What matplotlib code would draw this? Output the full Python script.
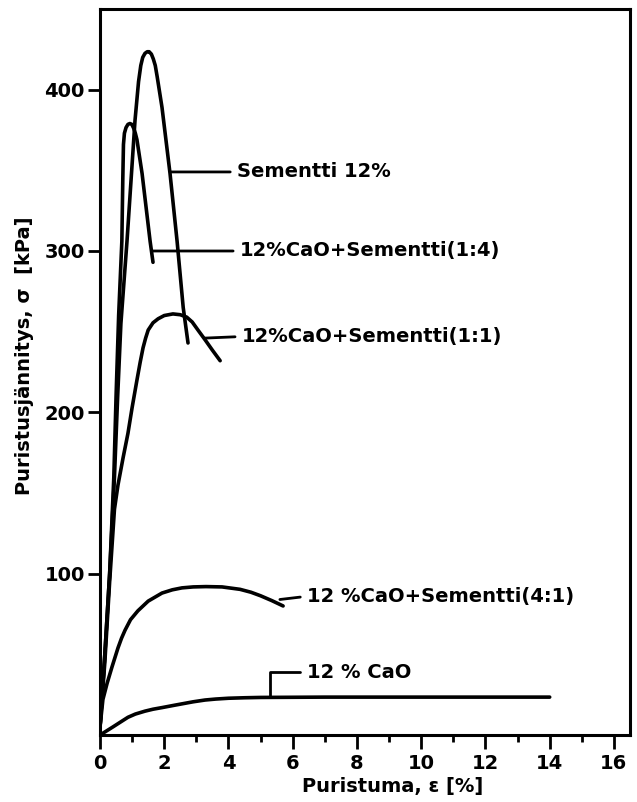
import matplotlib
matplotlib.use("Agg")
import matplotlib.pyplot as plt
from matplotlib.ticker import MultipleLocator, FixedLocator

plt.rcParams['font.family'] = ['DejaVu Sans']
plt.rcParams['font.weight'] = 'bold'

# ---- data (strain %, stress kPa) ----
sem12_x = [0, 0.15, 0.3, 0.45, 0.55, 0.65, 0.84, 1.09, 1.2, 1.27, 1.33, 1.4, 1.47, 1.53, 1.6, 1.66, 1.72,
           1.78, 1.93, 2.18, 2.4, 2.59, 2.74]
sem12_y = [5, 50, 100, 160, 210, 255, 306, 381, 405, 415, 420, 422.5, 423.5, 423.5, 422, 419, 415,
           408, 389, 348, 306, 265, 243]

mix14_x = [0, 0.15, 0.3, 0.43, 0.5, 0.58, 0.68, 0.71, 0.73, 0.76, 0.81, 0.87, 0.93, 0.99, 1.05, 1.1,
           1.15, 1.31, 1.56, 1.65]
mix14_y = [5, 50, 100, 160, 210, 260, 306, 345, 366, 373, 376.5, 378.5, 379, 378.5, 376, 373,
           369, 348, 306, 293]

mix11_x = [0, 0.15, 0.3, 0.45, 0.56, 0.72, 0.87, 1.0, 1.15, 1.25, 1.34, 1.42, 1.5, 1.65, 1.81, 2.0,
           2.27, 2.5, 2.7, 2.87, 3.05, 3.27, 3.5, 3.74]
mix11_y = [5, 45, 95, 140, 155, 172, 187, 203, 220, 231, 240, 246, 251, 255.5, 258, 260,
           261, 260.5, 259, 256, 251, 245, 238.5, 232]

mix41_x = [0, 0.09, 0.22, 0.37, 0.56, 0.67, 0.78, 0.95, 1.18, 1.5, 1.93, 2.25, 2.55, 2.9, 3.3, 3.8,
           4.36, 4.7, 5.0, 5.35, 5.7]
mix41_y = [5, 22, 32, 42, 54, 60, 65, 71.5, 77, 83, 88, 90, 91.2, 91.8, 92, 91.8,
           90.3, 88.5, 86.3, 83.3, 80]

cao_x = [0, 0.2, 0.4, 0.65, 0.87, 1.1, 1.4, 1.65, 1.93, 2.3, 2.6, 2.9, 3.27, 3.6, 4.0, 4.5, 5.0, 6.0,
         7.0, 10.0, 14.0]
cao_y = [0, 2.5, 5, 8.2, 11, 13, 14.8, 16, 17, 18.4, 19.5, 20.6, 21.7, 22.3, 22.8, 23.1, 23.3, 23.4,
         23.5, 23.5, 23.5]

labels = ["Sementti 12%", "12%CaO+Sementti(1:4)", "12%CaO+Sementti(1:1)",
          "12 %CaO+Sementti(4:1)", "12 % CaO"]
label_text_pos = [(4.27, 349), (4.36, 300), (4.42, 247), (6.45, 86), (6.45, 39)]
label_curve_pos = [(2.2, 349), (1.62, 300), (3.25, 246), (5.6, 84), (5.3, 23.5)]

x_major = [0, 2, 4, 6, 8, 10, 12, 14, 16]
y_major = [100, 200, 300, 400]

fig = plt.figure(figsize=(6.37, 8.02), dpi=100)
ax = fig.add_axes([0.157, 0.0835, 0.832, 0.9053])

series = [(sem12_x, sem12_y), (mix14_x, mix14_y), (mix11_x, mix11_y),
          (mix41_x, mix41_y), (cao_x, cao_y)]
for sx, sy in series:
    ax.plot(sx, sy, color='black', lw=2.6, solid_joinstyle='round', solid_capstyle='round')

for i, (lab, tp, cp) in enumerate(zip(labels, label_text_pos, label_curve_pos)):
    if i == 4:
        cs = 'angle,angleA=0,angleB=90,rad=0'
    else:
        cs = 'arc3'
    ax.annotate(lab, xy=cp, xytext=tp, ha='left', va='center', fontsize=14,
                fontweight='bold',
                arrowprops=dict(arrowstyle='-', color='black', lw=2.0,
                                connectionstyle=cs, relpos=(0, 0.5),
                                shrinkA=3, shrinkB=0))

ax.set_xlim(0, 16.5)
ax.set_ylim(0, 450)
ax.xaxis.set_major_locator(FixedLocator(x_major))
ax.xaxis.set_minor_locator(MultipleLocator(1))
ax.yaxis.set_major_locator(FixedLocator(y_major))
ax.tick_params(axis='x', which='major', direction='out', length=10, width=2, pad=4, labelsize=14)
ax.tick_params(axis='x', which='minor', direction='out', length=5, width=2)
ax.tick_params(axis='y', which='major', direction='out', length=9, width=2, pad=2, labelsize=14)
for sp in ax.spines.values():
    sp.set_linewidth(2.2)

ax.set_ylabel("Puristusjännitys, σ  [kPa]", fontsize=14, fontweight='bold')
ax.yaxis.set_label_coords(-0.125, 0.523)
ax.set_xlabel("Puristuma, ε [%]", fontsize=14, fontweight='bold')
ax.xaxis.set_label_coords(0.553, -0.058)

fig.savefig("out.png", dpi=100)
